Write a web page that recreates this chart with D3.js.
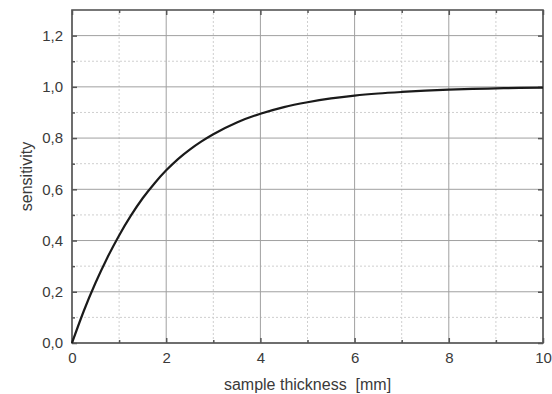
<!DOCTYPE html>
<html><head><meta charset="utf-8">
<script src="https://cdn.jsdelivr.net/npm/d3@7"></script>
<style>body{margin:0;background:#fff}svg{display:block}text{font-family:"Liberation Sans",Arial,sans-serif;fill:#3a3a3a}</style>
</head><body>
<script>
const thickness = [0,0.25,0.5,0.75,1,1.25,1.5,1.75,2,2.25,2.5,2.75,3,3.5,4,4.5,5,5.5,6,6.5,7,7.5,8,8.5,9,9.5,10];
const sensitivity = [0,0.125,0.235,0.333,0.42,0.497,0.565,0.623,0.674,0.718,0.755,0.787,0.815,0.861,0.895,0.921,0.94,0.955,0.966,0.974,0.98,0.985,0.989,0.992,0.994,0.996,0.997];
const xTicks = [0,2,4,6,8,10];
const xMinor = [1,3,5,7,9];
const yTicks = [0,0.2,0.4,0.6,0.8,1.0,1.2];
const yMinor = [0.1,0.3,0.5,0.7,0.9,1.1];
const xLabel = "sample thickness  [mm]";
const yLabel = "sensitivity";

const W=552,H=394, m={l:72,r:9,t:10,b:51};
const svg=d3.select("body").append("svg").attr("width",W).attr("height",H);
const x=d3.scaleLinear().domain([0,10]).range([m.l,W-m.r]);
const y=d3.scaleLinear().domain([0,1.3]).range([H-m.b,m.t]);
const g=svg.append("g");
// minor grid
g.selectAll(".mgx").data(xMinor).join("line").attr("x1",d=>x(d)).attr("x2",d=>x(d)).attr("y1",y(0)).attr("y2",y(1.3)).attr("stroke","#cfcfcf").attr("stroke-dasharray","2,2");
g.selectAll(".mgy").data(yMinor).join("line").attr("y1",d=>y(d)).attr("y2",d=>y(d)).attr("x1",x(0)).attr("x2",x(10)).attr("stroke","#cfcfcf").attr("stroke-dasharray","2,2");
// major grid
g.selectAll(".gx").data(xTicks).join("line").attr("x1",d=>x(d)).attr("x2",d=>x(d)).attr("y1",y(0)).attr("y2",y(1.3)).attr("stroke","#a0a0a0");
g.selectAll(".gy").data(yTicks).join("line").attr("y1",d=>y(d)).attr("y2",d=>y(d)).attr("x1",x(0)).attr("x2",x(10)).attr("stroke","#a0a0a0");
// axes with inward ticks
const fmt=d=>d3.format(".1f")(d).replace(".",",");
function style(a){a.select(".domain").remove();a.selectAll("line").attr("stroke","#555").attr("stroke-width",1.5);a.selectAll("text").style("font-size","15px").attr("fill","#3a3a3a");}
svg.append("g").attr("transform",`translate(0,${y(0)})`).call(d3.axisBottom(x).tickValues(xTicks).tickSize(-5).tickPadding(9).tickFormat(d3.format("d"))).call(style);
svg.append("g").attr("transform",`translate(0,${y(0)})`).call(d3.axisBottom(x).tickValues(xMinor).tickSize(-3).tickFormat("")).call(style);
svg.append("g").attr("transform",`translate(${x(0)},0)`).call(d3.axisLeft(y).tickValues(yTicks).tickSize(-5).tickPadding(9).tickFormat(fmt)).call(style);
svg.append("g").attr("transform",`translate(${x(0)},0)`).call(d3.axisLeft(y).tickValues(yMinor).tickSize(-3).tickFormat("")).call(style);
svg.append("g").attr("transform",`translate(0,${y(1.3)})`).call(d3.axisTop(x).tickValues(xTicks).tickSize(-5).tickFormat("")).call(style);
svg.append("g").attr("transform",`translate(0,${y(1.3)})`).call(d3.axisTop(x).tickValues(xMinor).tickSize(-3).tickFormat("")).call(style);
svg.append("g").attr("transform",`translate(${x(10)},0)`).call(d3.axisRight(y).tickValues(yTicks).tickSize(-5).tickFormat("")).call(style);
svg.append("g").attr("transform",`translate(${x(10)},0)`).call(d3.axisRight(y).tickValues(yMinor).tickSize(-3).tickFormat("")).call(style);
// frame
svg.append("rect").attr("x",x(0)).attr("y",y(1.3)).attr("width",x(10)-x(0)).attr("height",y(0)-y(1.3)).attr("fill","none").attr("stroke","#555").attr("stroke-width",1.6);
// curve
const pts=thickness.map((t,i)=>[t,sensitivity[i]]);
svg.append("path").datum(pts).attr("d",d3.line().x(d=>x(d[0])).y(d=>y(d[1])).curve(d3.curveMonotoneX)).attr("fill","none").attr("stroke","#1a1a1a").attr("stroke-width",2.2);
// labels
svg.append("text").attr("x",(x(0)+x(10))/2).attr("y",390).attr("text-anchor","middle").style("font-size","16px").style("white-space","pre").text(xLabel);
svg.append("text").attr("transform",`translate(32,${(y(0)+y(1.3))/2}) rotate(-90)`).attr("text-anchor","middle").style("font-size","16px").text(yLabel);
</script>
</body></html>
